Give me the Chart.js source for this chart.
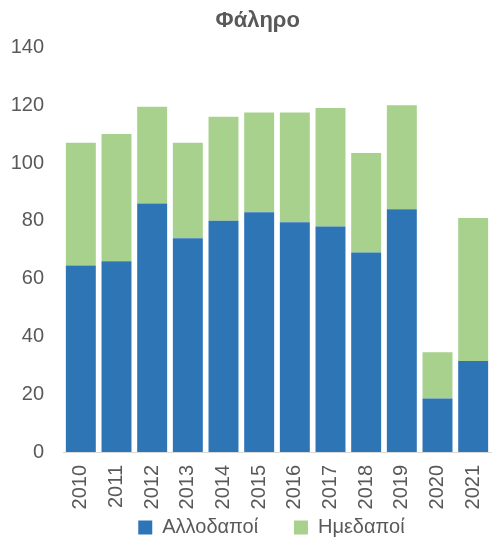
<!DOCTYPE html>
<html lang="el">
<head>
    <meta charset="UTF-8">
    <title>Φάληρο</title>
    <script src="https://cdn.jsdelivr.net/npm/chart.js"></script>
    <style>
        body {
            margin: 0;
            background: #ffffff;
        }
        #chart {
            display: block;
        }
    </style>
</head>
<body>
    <canvas id="chart" width="492" height="538"></canvas>

    <script>
        // Data
        const years = ['2010', '2011', '2012', '2013', '2014', '2015', '2016', '2017', '2018', '2019', '2020', '2021'];
        const allodapoi = [64.5, 66, 86, 74, 80, 83, 79.5, 78, 69, 84, 18.5, 31.5];
        const imedapoi = [42.5, 44, 33.5, 33, 36, 34.5, 38, 41, 34.5, 36, 16, 49.5];
        const yTicks = [0, 20, 40, 60, 80, 100, 120, 140];

        const textGray = '#595959';
        Chart.defaults.font.family = "'Liberation Sans', Arial, sans-serif";
        Chart.defaults.color = textGray;

        new Chart(document.getElementById('chart'), {
            type: 'bar',
            data: {
                labels: years,
                datasets: [{
                    label: 'Αλλοδαποί',
                    data: allodapoi,
                    backgroundColor: '#2E75B6'
                }, {
                    label: 'Ημεδαποί',
                    data: imedapoi,
                    backgroundColor: '#A9D18E'
                }]
            },
            options: {
                responsive: false,
                animation: false,
                layout: {
                    padding: { left: 0, right: 1, top: 0, bottom: 0 }
                },
                datasets: {
                    bar: {
                        categoryPercentage: 1,
                        barPercentage: 0.84
                    }
                },
                scales: {
                    x: {
                        stacked: true,
                        grid: { display: false, drawTicks: false },
                        border: { display: true, color: '#D9D9D9', width: 1 },
                        ticks: {
                            minRotation: 90,
                            maxRotation: 90,
                            padding: 13,
                            font: { size: 20 }
                        },
                        // rotated labels otherwise push the plot in from both sides
                        afterFit(scale) {
                            scale.paddingLeft = 0;
                            scale.paddingRight = 0;
                            scale.height = 57.5;
                        }
                    },
                    y: {
                        stacked: true,
                        min: yTicks[0],
                        max: yTicks[yTicks.length - 1],
                        grid: { display: false, drawTicks: false },
                        border: { display: false },
                        ticks: {
                            stepSize: yTicks[1] - yTicks[0],
                            padding: 19,
                            font: { size: 20 }
                        },
                        // plot starts at x = 63 in the original
                        afterFit(scale) {
                            scale.width = 63;
                        }
                    }
                },
                plugins: {
                    title: {
                        display: true,
                        text: '    Φάληρο',
                        color: textGray,
                        font: { size: 22, weight: 'bold' },
                        padding: { top: 8, bottom: 13 }
                    },
                    legend: {
                        position: 'bottom',
                        fullSize: false,
                        maxHeight: 28.5,
                        labels: {
                            boxWidth: 14,
                            boxHeight: 14,
                            padding: 8,
                            font: { size: 20 },
                            // spacing tweaks so the entries sit where the original has them
                            generateLabels(chart) {
                                const items = Chart.defaults.plugins.legend.labels.generateLabels(chart);
                                items.forEach((item, i) => {
                                    item.lineWidth = 0;
                                    item.text += (i < items.length - 1) ? '     ' : '  ';
                                });
                                return items;
                            }
                        }
                    },
                    tooltip: { enabled: false }
                }
            }
        });
    </script>
</body>
</html>
